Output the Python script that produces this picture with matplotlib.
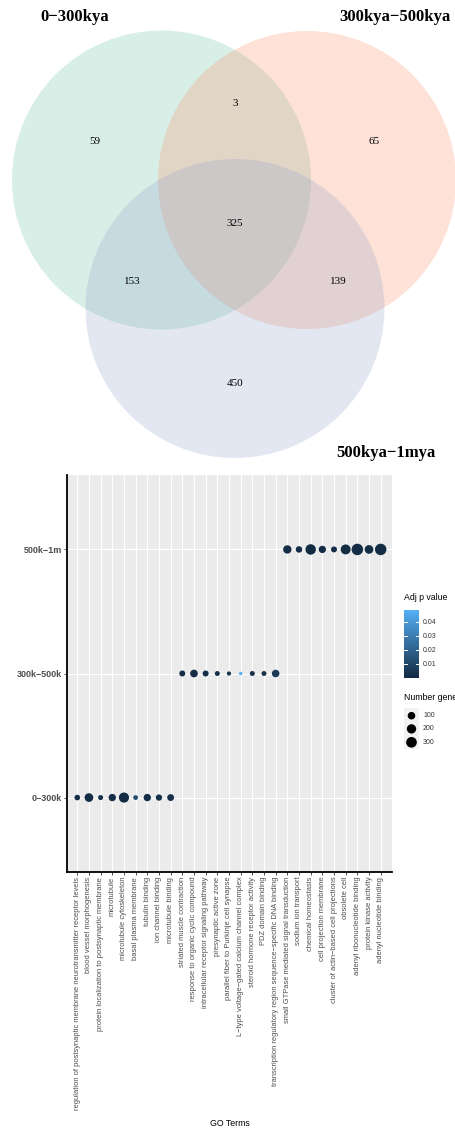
import numpy as np
import matplotlib
matplotlib.use("Agg")
import matplotlib.pyplot as plt
from matplotlib.patches import Circle, Rectangle
from matplotlib.colors import LinearSegmentedColormap, Normalize

# ---------------- data ----------------
venn_sets = ["0−300kya", "300kya−500kya", "500kya−1mya"]
venn_counts = {"A": 59, "AB": 3, "B": 65, "ABC": 325, "AC": 153, "BC": 139, "C": 450}

periods = ["0−300k", "300k−500k", "500k−1m"]
go_terms = [
    "regulation of postsynaptic membrane neurotransmitter receptor levels",
    "blood vessel morphogenesis",
    "protein localization to postsynaptic membrane",
    "microtubule",
    "microtubule cytoskeleton",
    "basal plasma membrane",
    "tubulin binding",
    "ion channel binding",
    "microtubule binding",
    "striated muscle contraction",
    "response to organic cyclic compound",
    "intracellular receptor signaling pathway",
    "presynaptic active zone",
    "parallel fiber to Purkinje cell synapse",
    "L−type voltage−gated calcium channel complex",
    "steroid hormone receptor activity",
    "PDZ domain binding",
    "transcription regulatory region sequence−specific DNA binding",
    "small GTPase mediated signal transduction",
    "sodium ion transport",
    "chemical homeostasis",
    "cell projection membrane",
    "cluster of actin−based cell projections",
    "obsolete cell",
    "adenyl ribonucleotide binding",
    "protein kinase activity",
    "adenyl nucleotide binding",
]
term_period = ["0−300k"] * 9 + ["300k−500k"] * 9 + ["500k−1m"] * 9
number_genes = [30, 159, 19, 90, 258, 14, 90, 50, 70,
                40, 105, 40, 17, 8, 5, 17, 17, 100,
                141, 57, 282, 89, 40, 242, 371, 159, 371]
adj_p = [0.001, 0.0005, 0.002, 0.001, 0.0003, 0.012, 0.001, 0.002, 0.002,
         0.001, 0.0005, 0.001, 0.002, 0.004, 0.0489, 0.002, 0.002, 0.006,
         0.0005, 0.001, 0.0002, 0.0008, 0.001, 0.0002, 0.0001, 0.0005, 0.0001]
size_breaks = [100, 200, 300]
p_breaks = [0.01, 0.02, 0.03, 0.04]

# ---------------- figure ----------------
W, H = 455, 1131
fig = plt.figure(figsize=(W / 100, H / 100), dpi=100)

def fx(px):
    return px / W

def fy(py):
    return 1 - py / H

# ---------------- Venn ----------------
axv = fig.add_axes([0, 0, 1, 1], zorder=0)
axv.set_xlim(0, W)
axv.set_ylim(H, 0)
axv.axis("off")
circ_specs = [((161.5, 180.0), 149.5, "#66C2A5"),
              ((307.0, 180.0), 149.0, "#FC8D62"),
              ((235.0, 308.5), 149.5, "#8DA0CB")]
for (c, r, col) in circ_specs:
    axv.add_patch(Circle(c, r, facecolor=col, alpha=0.25, edgecolor="none"))
serif = ["Liberation Serif", "DejaVu Serif"]
title_pos = [(74.5, 17), (395, 17), (385.5, 453)]
for name, (x, y) in zip(venn_sets, title_pos):
    axv.text(x, y, name, fontsize=12, fontweight="bold", family=serif,
             ha="center", va="center", color="black")
num_pos = {"A": (95, 142), "AB": (235, 104), "B": (374, 142), "ABC": (235, 223),
           "AC": (132, 282), "BC": (338, 282), "C": (235, 384)}
for k, v in venn_counts.items():
    x, y = num_pos[k]
    axv.text(x, y, str(v), fontsize=8, family=serif, ha="center", va="center")

# ---------------- dot plot ----------------
sans = ["Liberation Sans", "DejaVu Sans"]
left, right, top, bottom = 67, 392, 475, 872
ax = fig.add_axes([fx(left), fy(bottom), fx(right) - fx(left), (bottom - top) / H], zorder=2)
ax.set_facecolor("#EBEBEB")

xpos = np.arange(1, len(go_terms) + 1)
ypos = np.array([periods.index(p) + 1 for p in term_period])

cmap = LinearSegmentedColormap.from_list("gg", ["#132B43", "#56B1F7"])
pmin, pmax = 0.0, max(adj_p)
norm = Normalize(vmin=pmin, vmax=pmax)

cmin, cmax = 5, 400

def diam_px(c):
    c = np.asarray(c, dtype=float)
    return 3.5 + 8.3 * np.sqrt(np.clip((c - cmin) / (cmax - cmin), 0, 1))

def area_pt2(c):
    return (diam_px(c) * 0.72) ** 2

ax.scatter(xpos, ypos, s=area_pt2(number_genes), c=adj_p, cmap=cmap, norm=norm,
           edgecolors="none", zorder=3)

ax.set_xlim(0.12, len(go_terms) + 0.97)
ax.set_ylim(0.4, 3.6)
ax.set_xticks(xpos)
ax.set_xticklabels(go_terms, rotation=90, fontsize=5.45, color="#4D4D4D",
                   family=sans, ha="center", va="top")
ax.set_yticks([1, 2, 3])
ax.set_yticklabels(periods, fontsize=6.5, color="#4D4D4D", family=sans, fontweight="bold")
ax.grid(True, color="white", linewidth=0.8)
ax.set_axisbelow(True)
for s in ["top", "right"]:
    ax.spines[s].set_visible(False)
for s in ["left", "bottom"]:
    ax.spines[s].set_color("black")
    ax.spines[s].set_linewidth(1.3)
ax.tick_params(axis="both", length=2, width=0.6, color="#333333", pad=1.5)

fig.text(fx(229.5), fy(1123), "GO Terms", fontsize=6.3, family=sans,
         ha="center", va="center", color="black")

# ---------------- colorbar legend ----------------
fig.text(fx(404), fy(597), "Adj p value", fontsize=6.3, family=sans,
         ha="left", va="center", color="black")
cb_top, cb_bot, cb_l, cb_r = 610, 678, 404, 419
axc = fig.add_axes([fx(cb_l), fy(cb_bot), fx(cb_r) - fx(cb_l), (cb_bot - cb_top) / H], zorder=3)
grad = np.linspace(pmin, pmax, 256).reshape(-1, 1)
axc.imshow(grad, aspect="auto", cmap=cmap, norm=norm, origin="lower",
           extent=[0, 1, pmin, pmax])
axc.set_xlim(0, 1)
axc.set_ylim(pmin, pmax)
for b in p_breaks:
    axc.plot([0, 0.2], [b, b], color="white", lw=0.7)
    axc.plot([0.8, 1], [b, b], color="white", lw=0.7)
    fig.text(fx(423), fy(cb_bot) + (b - pmin) / (pmax - pmin) * (cb_bot - cb_top) / H,
             f"{b:.2f}", fontsize=5, family=sans, ha="left", va="center", color="#333333")
axc.set_xticks([])
axc.set_yticks([])
for s in axc.spines.values():
    s.set_visible(False)

# ---------------- size legend ----------------
fig.text(fx(404), fy(697), "Number genes", fontsize=6.3, family=sans,
         ha="left", va="center", color="black")
axs = fig.add_axes([0, 0, 1, 1], zorder=3)
axs.set_xlim(0, W)
axs.set_ylim(H, 0)
axs.axis("off")
key_y = [715.7, 728.9, 742.3]
axs.add_patch(Rectangle((404, 708), 15, 41, facecolor="#F2F2F2", edgecolor="none"))
for b, y in zip(size_breaks, key_y):
    axs.scatter([411.5], [y], s=area_pt2(b), color="black", edgecolors="none")
    axs.text(423, y, str(b), fontsize=5, family=sans, ha="left", va="center", color="#333333")

fig.savefig("out.png", dpi=100)
